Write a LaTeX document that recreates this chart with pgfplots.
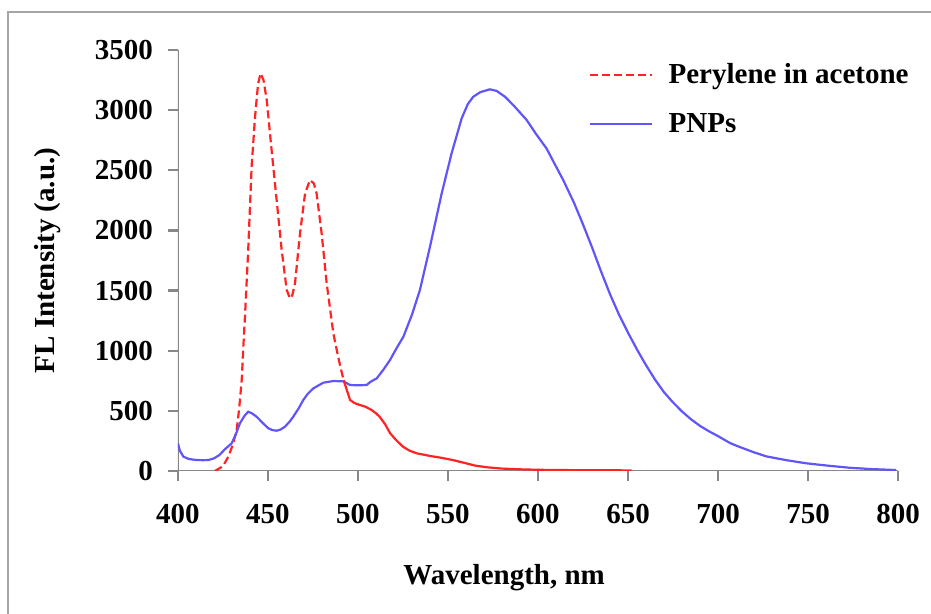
\documentclass[border=0pt]{standalone}
\usepackage{pgfplots}
\pgfplotsset{compat=1.18}
\usepackage{fontspec}
\setmainfont{Liberation Serif}
\definecolor{myred}{RGB}{255,35,35}
\definecolor{myblue}{RGB}{95,85,250}
\definecolor{axgray}{RGB}{135,135,135}
\definecolor{framegray}{RGB}{165,165,165}
\begin{document}
\begin{tikzpicture}
\begin{axis}[
 scale only axis, width=360pt, height=210.5pt,
 xmin=400, xmax=800, ymin=0, ymax=3500,
 xtick={400,450,...,800}, ytick={0,500,...,3500},
 xtick pos=bottom, ytick pos=left,
 axis line style={draw=none},
 tick align=outside,
 major tick length=5pt,
 tick style={draw=axgray, line width=1.2pt},
 ticklabel style={font=\fontsize{14.5}{16}\selectfont\bfseries},
 xticklabel style={yshift=-8pt},
 yticklabel style={xshift=-4pt},
 /pgf/number format/assume math mode=true, /pgf/number format/1000 sep={},
 xlabel={Wavelength, nm}, ylabel={FL Intensity (a.u.)},
 label style={font=\fontsize{14.5}{16}\selectfont\bfseries},
 xlabel style={at={(axis description cs:0.453,-0.254)}, anchor=center},
 ylabel style={at={(axis description cs:-0.1806,0.5)}, anchor=center},
 legend cell align=left,
 legend image code/.code={\draw[#1] (0pt,0pt) -- (31pt,0pt);},
 legend style={draw=none, fill=none, at={(axis cs:627.8,3091)}, anchor=west,
   inner sep=0pt, row sep=9.5pt, column sep=6pt,
   font=\fontsize{14.5}{16}\selectfont\bfseries},
]
\draw[axgray, line width=1pt] (rel axis cs:0,1) -- (rel axis cs:0,0) -- (rel axis cs:1,0);
\addplot[myred, line width=1.1pt, dash pattern=on 4pt off 2pt] coordinates {
(420.5,0) (425,40) (428,120) (430.5,220) (432.6,341) (434,520) (435.4,756)
(436.3,1033) (437.2,1283) (439,1837) (440.9,2530) (442.8,2945) (444.5,3220)
(445.9,3306) (447.5,3250) (449.3,3084) (452,2668) (454.8,2253) (457.6,1837)
(460.4,1505) (462.2,1435) (463.5,1460) (465,1560) (467.8,1976) (470.6,2308)
(473.3,2419) (475.5,2390) (477,2308) (479.8,1976) (482.6,1560) (486.3,1145)
(488.2,1006) (490,880) (492,756)};
\addlegendentry{Perylene in acetone}
\addplot[myblue, line width=1.1pt] coordinates {
(400,230) (401,170) (403,119) (406,100) (410.4,91) (414,90) (416.9,91) (420,105)
(423,133) (426,180) (429.8,230) (432,300) (434.4,396) (437,460) (439,493)
(441,480) (443.7,451) (447,400) (450.2,355) (452.5,340) (454.8,335) (457,345)
(459.4,368) (462,410) (464,451) (467,520) (469.6,590) (472,640) (475.2,687)
(480.7,734) (486.3,748) (491.9,745) (495.6,715) (500,712) (504.8,715) (507,742)
(510.4,770) (514,840) (517.8,923) (521,1010) (525.2,1116) (530,1300) (534.4,1505)
(540,1865) (546.5,2308) (552,2641) (557.6,2932) (561,3050) (564,3111) (568,3150)
(573.3,3173) (577,3160) (581.7,3111) (587,3030) (593.7,2918) (599,2800)
(604.8,2680) (609,2560) (614,2419) (620,2230) (625,2050) (630,1860) (635,1660)
(640,1470) (645,1300) (650,1150) (655,1010) (660,880) (665,760) (670,655)
(675,570) (680,495) (685,430) (690,375) (695,330) (700,290) (706.7,232) (712,200)
(720,155) (727,121) (738,90) (749,64) (760,46) (773,27) (785,16) (799,8)};
\addlegendentry{PNPs}
\addplot[myred, line width=1.1pt, forget plot] coordinates {
(492,756) (495.6,590) (498,565) (501,549) (504,535) (507.6,507) (510,480)
(512,451) (515,390) (517.8,315) (521,260) (525,202) (528.5,170) (532.6,147)
(540,125) (547,108) (553,90) (560,64) (565,45) (571.5,31) (580,20) (590,14)
(600,10) (620,7) (652,5)};
\end{axis}
\draw[framegray, line width=1.2pt] (-85pt,-71.5pt) -- (-85pt,229.5pt) -- (376.5pt,229.5pt);
\pgfresetboundingbox
\path (-89pt,-71.5pt) rectangle (376.5pt,235.5pt);
\end{tikzpicture}
\end{document}
